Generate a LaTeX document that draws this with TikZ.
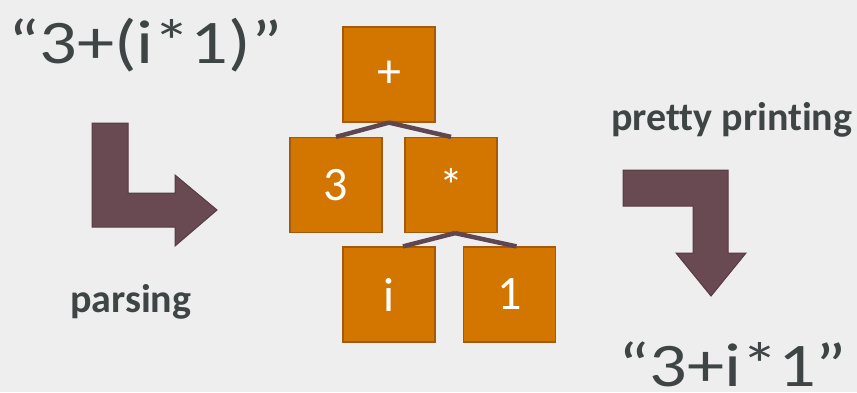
\documentclass[tikz,border=0pt]{standalone}
\usepackage{fontspec}
\setmainfont[Ligatures={NoCommon}]{Carlito}
\definecolor{bgcol}{HTML}{EEEEEE}
\definecolor{boxfill}{HTML}{D27600}
\definecolor{boxline}{HTML}{A35A0C}
\definecolor{arrowfill}{HTML}{694A53}
\definecolor{arrowline}{HTML}{573A43}
\definecolor{edgecol}{HTML}{5F4752}
\definecolor{txtcol}{HTML}{3F4545}
\tikzset{
  treebox/.style={draw=boxline,line width=1.2pt,fill=boxfill,minimum width=92pt,minimum height=95pt,
    inner sep=0pt,text=white,font=\fontsize{48}{56}\selectfont},
  treeedge/.style={draw=edgecol,line width=4.5pt},
  bigarrow/.style={fill=arrowfill,draw=arrowline,line width=1pt,line join=miter},
  bigtext/.style={text=txtcol,inner sep=0pt,anchor=base west,xscale=1.2,
    font=\fontsize{62}{72}\selectfont},
  steptext/.style={text=txtcol,inner sep=0pt,anchor=base west,font=\fontsize{40}{48}\selectfont\bfseries}
}
\begin{document}
\begin{tikzpicture}[x=1pt,y=-1pt]
\fill[bgcol] (0,0) rectangle (857,392);
\useasboundingbox (0,0) rectangle (857,392);
% input and output strings
\node[bigtext] (input) at (8,63) {“3+(i*1)”};
\node[bigtext] (output) at (618,386) {“3+i*1”};
\node[steptext] (parsing) at (70,312) {parsing};
\node[steptext] (printing) at (611,130) {pretty printing};
% the tree
\node[treebox] (plus) at (389,74.5) {+};
\node[treebox] (three) at (336,185) {3};
\node[treebox] (times) at (451,185) {*};
\node[treebox] (ivar) at (389,294.5) {i};
\node[treebox] (one) at (509.5,294.5) {1};
\draw[treeedge] (plus.south) -- (three.north);
\draw[treeedge] (plus.south) -- (times.north);
\draw[treeedge] ([xshift=4pt]times.south) -- ([xshift=14pt]ivar.north);
\draw[treeedge] ([xshift=4pt]times.south) -- ([xshift=7pt]one.north);
% bent arrows
\draw[bigarrow] (92,123) -- (128,123) -- (128,193) -- (175,193) -- (175,175) -- (217,210)
  -- (175,246) -- (175,227) -- (92,227) -- cycle;
\draw[bigarrow] (623,170) -- (728,170) -- (728,253) -- (746,253) -- (711,296) -- (676,253)
  -- (693,253) -- (693,206) -- (623,206) -- cycle;
\end{tikzpicture}
\end{document}
